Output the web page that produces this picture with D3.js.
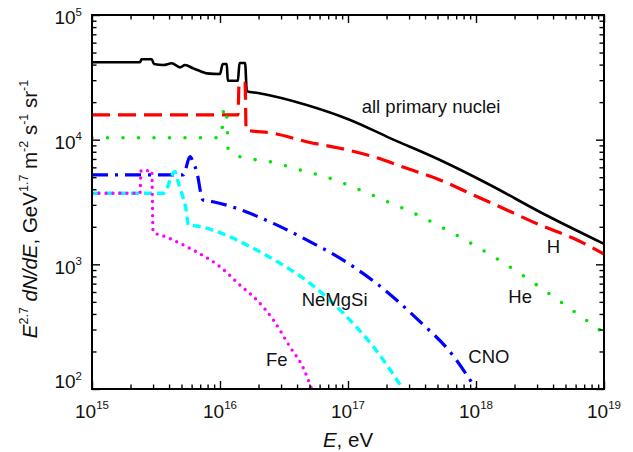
<!DOCTYPE html>
<html>
<head>
<meta charset="utf-8">
<script src="https://cdn.jsdelivr.net/npm/d3@7"></script>
<style>
  html, body { margin: 0; padding: 0; background: #fff; }
  svg { display: block; }
  text { font-family: "Liberation Sans", Arial, Helvetica, sans-serif; fill: #111; }
</style>
</head>
<body>
<svg id="chart" width="633" height="452"></svg>
<script>
// ---------------- data ----------------
// x tick exponents (10^n eV) and y tick exponents
const xTickExps = [15, 16, 17, 18, 19];
const yTickExps = [2, 3, 4, 5];

// all primary nuclei
const allE = [1e15, 2.37e15, 2.44e15, 2.93e15, 3.05e15, 3.61e15, 4.20e15, 4.87e15, 5.33e15, 6.18e15, 7.19e15, 7.87e15,
              1.0e16, 1.05e16, 1.13e16, 1.15e16, 1.38e16, 1.42e16, 1.57e16, 1.62e16, 1.98e16, 4.75e16, 1.04e17,
              2.13e17, 5.23e17, 1.29e18, 3.16e18, 1e19];
const allF = [41800, 41800, 44200, 44200, 40400, 39700, 41000, 38000, 39700, 37300, 35100, 34000,
              33600, 40400, 40400, 29700, 29700, 41200, 41200, 24500, 23700, 19000, 14400,
              10300, 6870, 4330, 2630, 1460];
// H
const hE = [1e15, 1.38e16, 1.41e16, 1.57e16, 1.60e16, 2.61e16, 4.75e16, 8.66e16, 1.58e17, 2.88e17, 5.23e17,
            9.53e17, 1.74e18, 3.16e18, 5.76e18, 1e19];
const hF = [15800, 15800, 28300, 28300, 11960, 11250, 9630, 8530, 7300, 5890, 4750,
            3600, 2730, 2070, 1620, 1210];
// He
const heE = [1e15, 1.02e16, 1.075e16, 1.12e16, 1.16e16, 1.43e16, 2.46e16, 4.22e16, 7.23e16, 1.24e17, 2.13e17,
             3.65e17, 6.26e17, 1.01e18, 1.74e18, 2.98e18, 4.96e18, 1e19];
const heF = [10370, 10370, 17950, 17950, 8260, 7300, 6650, 5710, 4900, 3950, 3120,
             2440, 1830, 1390, 989, 683, 472, 281];
// CNO
const cnoE = [1e15, 5.16e15, 5.83e15, 6.15e15, 6.58e15, 7.36e15, 8.81e15, 1.26e16, 2.61e16, 4.75e16, 8.66e16,
              1.67e17, 3.65e17, 6.26e17, 1e18];
const cnoF = [5210, 5210, 7300, 6650, 5530, 3280, 3180, 2880, 2130, 1570, 1120,
              704, 347, 199, 100];
// NeMgSi
const nmsE = [1e15, 3.61e15, 4.45e15, 4.70e15, 5.02e15, 5.49e15, 5.65e15, 6.58e15, 1e16, 1.71e16, 2.94e16,
              5.05e16, 9.18e16, 1.58e17, 2.69e17];
const nmsF = [3715, 3715, 5530, 4600, 3715, 2570, 2070, 2030, 1795, 1390, 1020,
              704, 405, 218, 100];
// Fe
const feE = [1e15, 2.37e15, 2.42e15, 2.93e15, 3.0e15, 3.84e15, 6.18e15, 1e16, 1.43e16, 1.94e16, 2.61e16,
             3.52e16, 4.48e16, 5.2e16];
const feF = [3715, 3715, 5640, 5640, 1830, 1650, 1300, 957, 683, 517, 358,
             218, 147, 100];

// ---------------- layout ----------------
const W = 633, H = 452;
const margin = { left: 92, right: 29, top: 15, bottom: 63 };
const svg = d3.select("#chart");

const x = d3.scaleLog().domain([1e15, 1e19]).range([margin.left, W - margin.right]);
const y = d3.scaleLog().domain([1e2, 1e5]).range([H - margin.bottom, margin.top]);

const x0 = x.range()[0], x1 = x.range()[1];
const y0 = y.range()[0], y1 = y.range()[1];

svg.append("defs").append("clipPath").attr("id", "clip")
  .append("rect").attr("x", x0).attr("y", y1).attr("width", x1 - x0).attr("height", y0 - y1);

// ---------------- series ----------------
const zip = (a, b) => a.map((v, i) => [v, b[i]]);
const series = [
  { data: zip(allE, allF), color: "#000000", width: 2.6, dash: null, cap: "butt" },
  { data: zip(hE, hF), color: "#ff0000", width: 3.2, dash: "18,8", cap: "butt" },
  { data: zip(heE, heF), color: "#00e600", width: 3.6, dash: "0,15.5", cap: "round" },
  { data: zip(cnoE, cnoF), color: "#0000ff", width: 3.2, dash: "16,7,3,7", cap: "butt" },
  { data: zip(nmsE, nmsF), color: "#00ffff", width: 3.4, dash: "8,5", cap: "butt" },
  { data: zip(feE, feF), color: "#ff00ff", width: 3.4, dash: "0,7", cap: "round" }
];

const line = d3.line().x(d => x(d[0])).y(d => y(d[1])).curve(d3.curveMonotoneX);

const gLines = svg.append("g").attr("clip-path", "url(#clip)");
series.forEach(s => {
  gLines.append("path")
    .datum(s.data)
    .attr("d", line)
    .attr("fill", "none")
    .attr("stroke", s.color)
    .attr("stroke-width", s.width)
    .attr("stroke-linecap", s.cap)
    .attr("stroke-linejoin", "round")
    .attr("stroke-dasharray", s.dash);
});

// ---------------- axes (inward ticks on all four sides) ----------------
const xAll = x.ticks();
const yAll = y.ticks();
const isMajor = v => Math.abs(Math.log10(v) - Math.round(Math.log10(v))) < 1e-9;
const xMaj = xAll.filter(isMajor), xMin = xAll.filter(v => !isMajor(v));
const yMaj = yAll.filter(isMajor), yMin = yAll.filter(v => !isMajor(v));
const MAJ = 8, MIN = 4.5;

function styleAxis(g) {
  g.select(".domain").remove();
  g.selectAll(".tick line").attr("stroke", "#000").attr("stroke-width", 1.4);
  g.selectAll(".tick text").remove();
}
[[xMaj, MAJ], [xMin, MIN]].forEach(([vals, len]) => {
  svg.append("g").attr("transform", `translate(0,${y0})`)
    .call(d3.axisBottom(x).tickValues(vals).tickSizeInner(-len).tickSizeOuter(0)).call(styleAxis);
  svg.append("g").attr("transform", `translate(0,${y1})`)
    .call(d3.axisTop(x).tickValues(vals).tickSizeInner(-len).tickSizeOuter(0)).call(styleAxis);
});
[[yMaj, MAJ], [yMin, MIN]].forEach(([vals, len]) => {
  svg.append("g").attr("transform", `translate(${x0},0)`)
    .call(d3.axisLeft(y).tickValues(vals).tickSizeInner(-len).tickSizeOuter(0)).call(styleAxis);
  svg.append("g").attr("transform", `translate(${x1},0)`)
    .call(d3.axisRight(y).tickValues(vals).tickSizeInner(-len).tickSizeOuter(0)).call(styleAxis);
});

// frame
svg.append("rect")
  .attr("x", x0).attr("y", y1).attr("width", x1 - x0).attr("height", y0 - y1)
  .attr("fill", "none").attr("stroke", "#000").attr("stroke-width", 2);

// ---------------- tick labels ----------------
const TF = 19, SF = 11.5;
xTickExps.forEach(e => {
  const t = svg.append("text")
    .attr("x", x(Math.pow(10, e))).attr("y", y0 + 28.5)
    .attr("text-anchor", "middle").attr("font-size", TF);
  t.append("tspan").text("10");
  t.append("tspan").attr("font-size", SF).attr("dy", -8.5).text(String(e));
});
yTickExps.forEach(e => {
  const yy = e === 2 ? y0 - 1 : y(Math.pow(10, e)) + 9.3;
  const t = svg.append("text")
    .attr("x", x0 - 10).attr("y", yy)
    .attr("text-anchor", "end").attr("font-size", TF);
  t.append("tspan").text("10");
  t.append("tspan").attr("font-size", SF).attr("dy", -8.5).text(String(e));
});

// ---------------- axis titles ----------------
const AF = 20.5, ASF = 12.5, SUP = 9;
const xt = svg.append("text")
  .attr("x", x(1e17)).attr("y", 447)
  .attr("text-anchor", "middle").attr("font-size", AF)
  .style("white-space", "pre");
xt.append("tspan").attr("font-style", "italic").text("E");
xt.append("tspan").text(", eV");

const yt = svg.append("text")
  .attr("transform", `translate(37,209) rotate(-90)`)
  .attr("text-anchor", "middle").attr("font-size", AF)
  .style("white-space", "pre");
const yPieces = [
  { t: "E", it: true }, { t: "2.7", sup: true }, { t: " " }, { t: "dN/dE", it: true },
  { t: ", GeV" }, { t: "1.7", sup: true }, { t: " m" }, { t: "-2", sup: true },
  { t: " s" }, { t: "-1", sup: true }, { t: " sr" }, { t: "-1", sup: true }
];
let cur = 0;
yPieces.forEach(p => {
  const target = p.sup ? -SUP : 0;
  const ts = yt.append("tspan").text(p.t);
  if (target !== cur) { ts.attr("dy", target - cur); cur = target; }
  if (p.sup) ts.attr("font-size", ASF);
  if (p.it) ts.attr("font-style", "italic");
});

// ---------------- series labels ----------------
const labels = [
  { text: "all primary nuclei", x: 361.7, y: 112.5 },
  { text: "H", x: 546.7, y: 252.7 },
  { text: "He", x: 508.3, y: 302.7 },
  { text: "NeMgSi", x: 301.7, y: 306 },
  { text: "CNO", x: 468.3, y: 363.3 },
  { text: "Fe", x: 266, y: 365.7 }
];
labels.forEach(l => {
  svg.append("text").attr("x", l.x).attr("y", l.y).attr("font-size", 18.5).text(l.text);
});
</script>
</body>
</html>
